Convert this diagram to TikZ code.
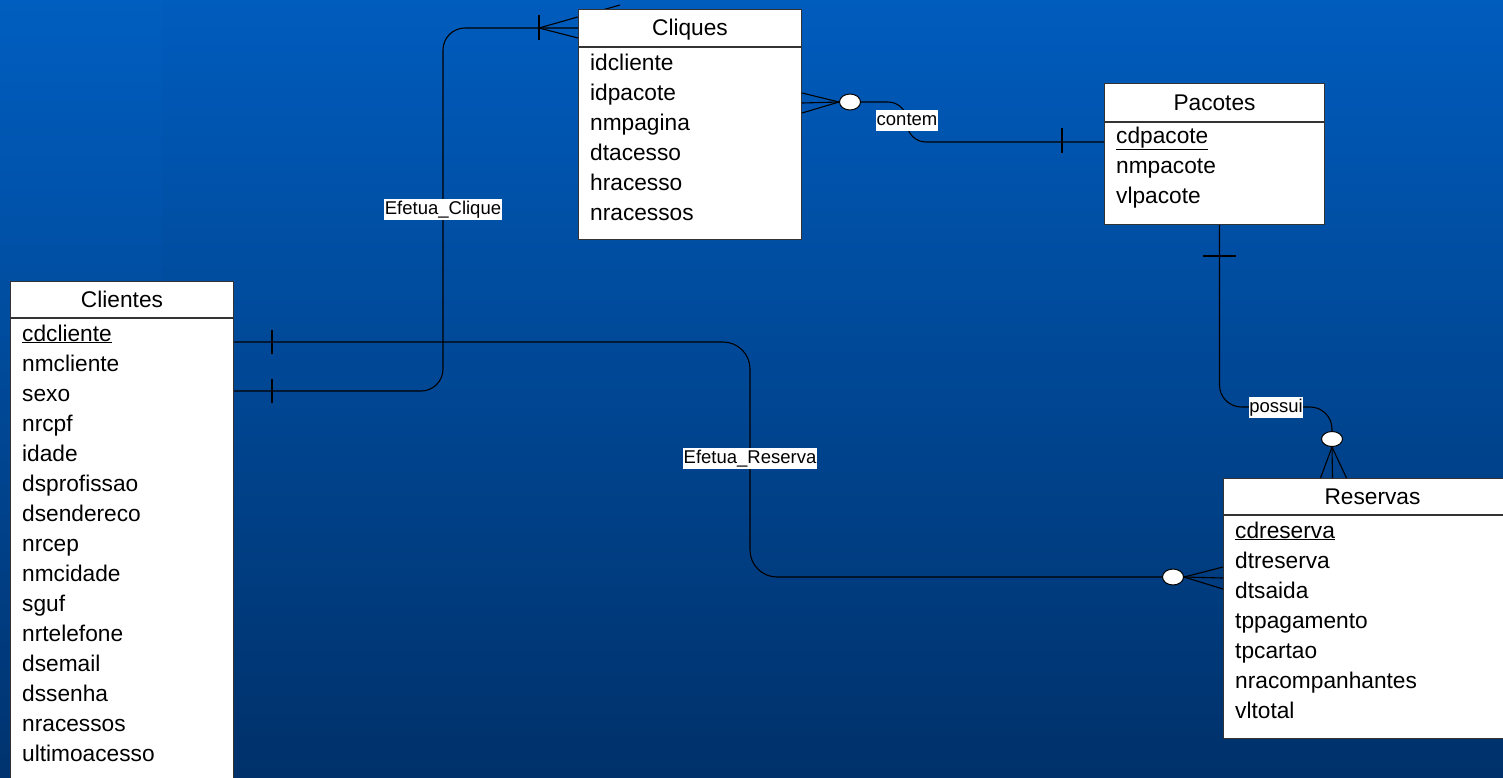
\documentclass[tikz,border=0pt]{standalone}
\usepackage{fontspec}
\setmainfont{Liberation Sans}
\usetikzlibrary{positioning,calc,shapes.geometric}

\definecolor{fundotopo}{HTML}{005CBD}
\definecolor{fundobase}{HTML}{00316A}
\definecolor{faixatopo}{HTML}{005EC0}
\definecolor{faixabase}{HTML}{00336F}

\pgfdeclarelayer{fundo}
\pgfdeclarelayer{tras}
\pgfsetlayers{fundo,tras,main}

\begin{document}
\begin{tikzpicture}[x=1pt, y=-1pt,
   titulo/.style={draw=black!80, fill=white, line width=1pt, inner sep=0pt, anchor=north west, text height=16pt, text depth=1pt, font=\fontsize{22.7pt}{27pt}\selectfont},
   corpo/.style={draw=black!80, fill=white, line width=1pt, inner sep=0pt},
   atrib/.style={anchor=base west, inner sep=0pt, font=\fontsize{22.7pt}{27pt}\selectfont},
   rel/.style={fill=white, inner sep=0.5pt, text height=15.5pt, text depth=4.5pt, font=\fontsize{18.5pt}{21pt}\selectfont},
   bola/.style={ellipse, draw, fill=white, line width=1pt, minimum width=21pt, minimum height=16pt, inner sep=0pt},
   link/.style={line width=1.1pt}]

   \useasboundingbox (0,0) rectangle (1503,777);
   \clip (0,0) rectangle (1503,777);
   \begin{pgfonlayer}{fundo}
      \shade[top color=fundotopo, bottom color=fundobase] (0,0) rectangle (1503,777);
      \shade[top color=faixatopo, bottom color=faixabase] (0,0) rectangle (162,777);
   \end{pgfonlayer}

   % entidades
   \node[titulo, minimum width=223pt, minimum height=37pt] (cqhead) at (578,9) {Cliques};
   \node[corpo, below=0pt of cqhead, minimum width=223pt, minimum height=192pt] (cq) {};
   \foreach \a [count=\i] in {idcliente, idpacote, nmpagina, dtacesso, hracesso, nracessos}
      \node[atrib] (cq-\i) at ($(cq.north west)+(12,23+30*\i-30)$) {\a};

   \node[titulo, minimum width=220pt, minimum height=38pt] (pchead) at (1104,83) {Pacotes};
   \node[corpo, below=0pt of pchead, minimum width=220pt, minimum height=102pt] (pc) {};
   \foreach \a [count=\i] in {\underline{cdpacote}, nmpacote, vlpacote}
      \node[atrib] (pc-\i) at ($(pc.north west)+(12,21+30*\i-30)$) {\a};

   \node[titulo, minimum width=223pt, minimum height=36pt] (clhead) at (10,281) {Clientes};
   \node[corpo, below=0pt of clhead, minimum width=223pt, minimum height=500pt] (cl) {};
   \foreach \a [count=\i] in {\underline{cdcliente}, nmcliente, sexo, nrcpf, idade, dsprofissao, dsendereco, nrcep, nmcidade, sguf, nrtelefone, dsemail, dssenha, nracessos, ultimoacesso}
      \node[atrib] (cl-\i) at ($(cl.north west)+(12,23+30*\i-30)$) {\a};

   \node[titulo, minimum width=298pt, minimum height=36pt] (rshead) at (1223,478) {Reservas};
   \node[corpo, below=0pt of rshead, minimum width=298pt, minimum height=223pt] (rs) {};
   \foreach \a [count=\i] in {\underline{cdreserva}, dtreserva, dtsaida, tppagamento, tpcartao, nracompanhantes, vltotal}
      \node[atrib] (rs-\i) at ($(rs.north west)+(12,23+30*\i-30)$) {\a};

   % pontos de ligacao
   \coordinate (cl-a) at ([yshift=-24pt]cl.north east);
   \coordinate (cl-b) at ([yshift=-73pt]cl.north east);
   \coordinate (cq-r) at ([yshift=-56pt]cq.north east);
   \coordinate (pc-l) at ([yshift=-20pt]pc.north west);
   \coordinate (pc-b) at ([xshift=5pt]pc.south);
   \coordinate (rs-t) at ([xshift=-40pt]rshead.north);
   \coordinate (rs-l) at ([yshift=-63pt]rs.north west);

   \node[bola] (o1) at (850,102) {};
   \node[bola] (o2) at (1173,577) {};
   \node[bola, minimum height=15pt] (o3) at (1332,439) {};

   \node (ecl) at (443,209) {};
   \node (ers) at (750,458) {};
   \node (ctm) at (907,120) {};
   \node (pss) at (1276,407) {};

   % Efetua_Clique
   \draw[link, rounded corners=22pt] (cl-b) -| (ecl.center) |- (cqhead.west);
   \draw[link] ($(cl-b)+(38,-12)$) -- ++(0,24);
   \draw[link] ($(cqhead.west)+(-39,-13)$) -- ++(0,25);
   \begin{pgfonlayer}{tras}
      \draw[link] ($(cqhead.west)+(-39,0)$) -- ($(cqhead.west)+(42,-23)$);
   \end{pgfonlayer}
   \draw[link] ($(cqhead.west)+(-39,0)$) -- ($(cqhead.west)+(0,10)$);

   % Efetua_Reserva
   \draw[link, rounded corners=27pt] (cl-a) -| (ers.center) |- (o2.west);
   \draw[link] ($(cl-a)+(38,-12)$) -- ++(0,24);
   \draw[link] (o2.east) -- ($(rs-l)+(0,-11)$);
   \draw[link] (o2.east) -- (rs-l);
   \draw[link] (o2.east) -- ($(rs-l)+(0,11)$);

   % contem
   \draw[link] ($(cq-r)+(0,-10)$) -- (o1.west);
   \draw[link] (cq-r) -- (o1.west);
   \draw[link] ($(cq-r)+(0,10)$) -- (o1.west);
   \draw[link, rounded corners=19pt] (o1.east) -- (ctm.center |- o1.east) -- (ctm.center |- pc-l) -- (pc-l);
   \draw[link] ($(pc-l)+(-42,-14)$) -- ++(0,25);

   % possui
   \draw[link, rounded corners=22pt] (pc-b) |- (pss.center) -| (o3.north);
   \draw[link] ($(pc-b)+(-17,31)$) -- ++(33,0);
   \draw[link] (o3.south) -- ($(rs-t)+(-12,0)$);
   \draw[link] (o3.south) -- (rs-t);
   \draw[link] (o3.south) -- ($(rs-t)+(14,0)$);

   % nomes dos relacionamentos
   \node[rel] at (ecl) {Efetua\_Clique};
   \node[rel] at (ers) {Efetua\_Reserva};
   \node[rel] at (ctm) {contem};
   \node[rel] at (pss) {possui};
\end{tikzpicture}
\end{document}
